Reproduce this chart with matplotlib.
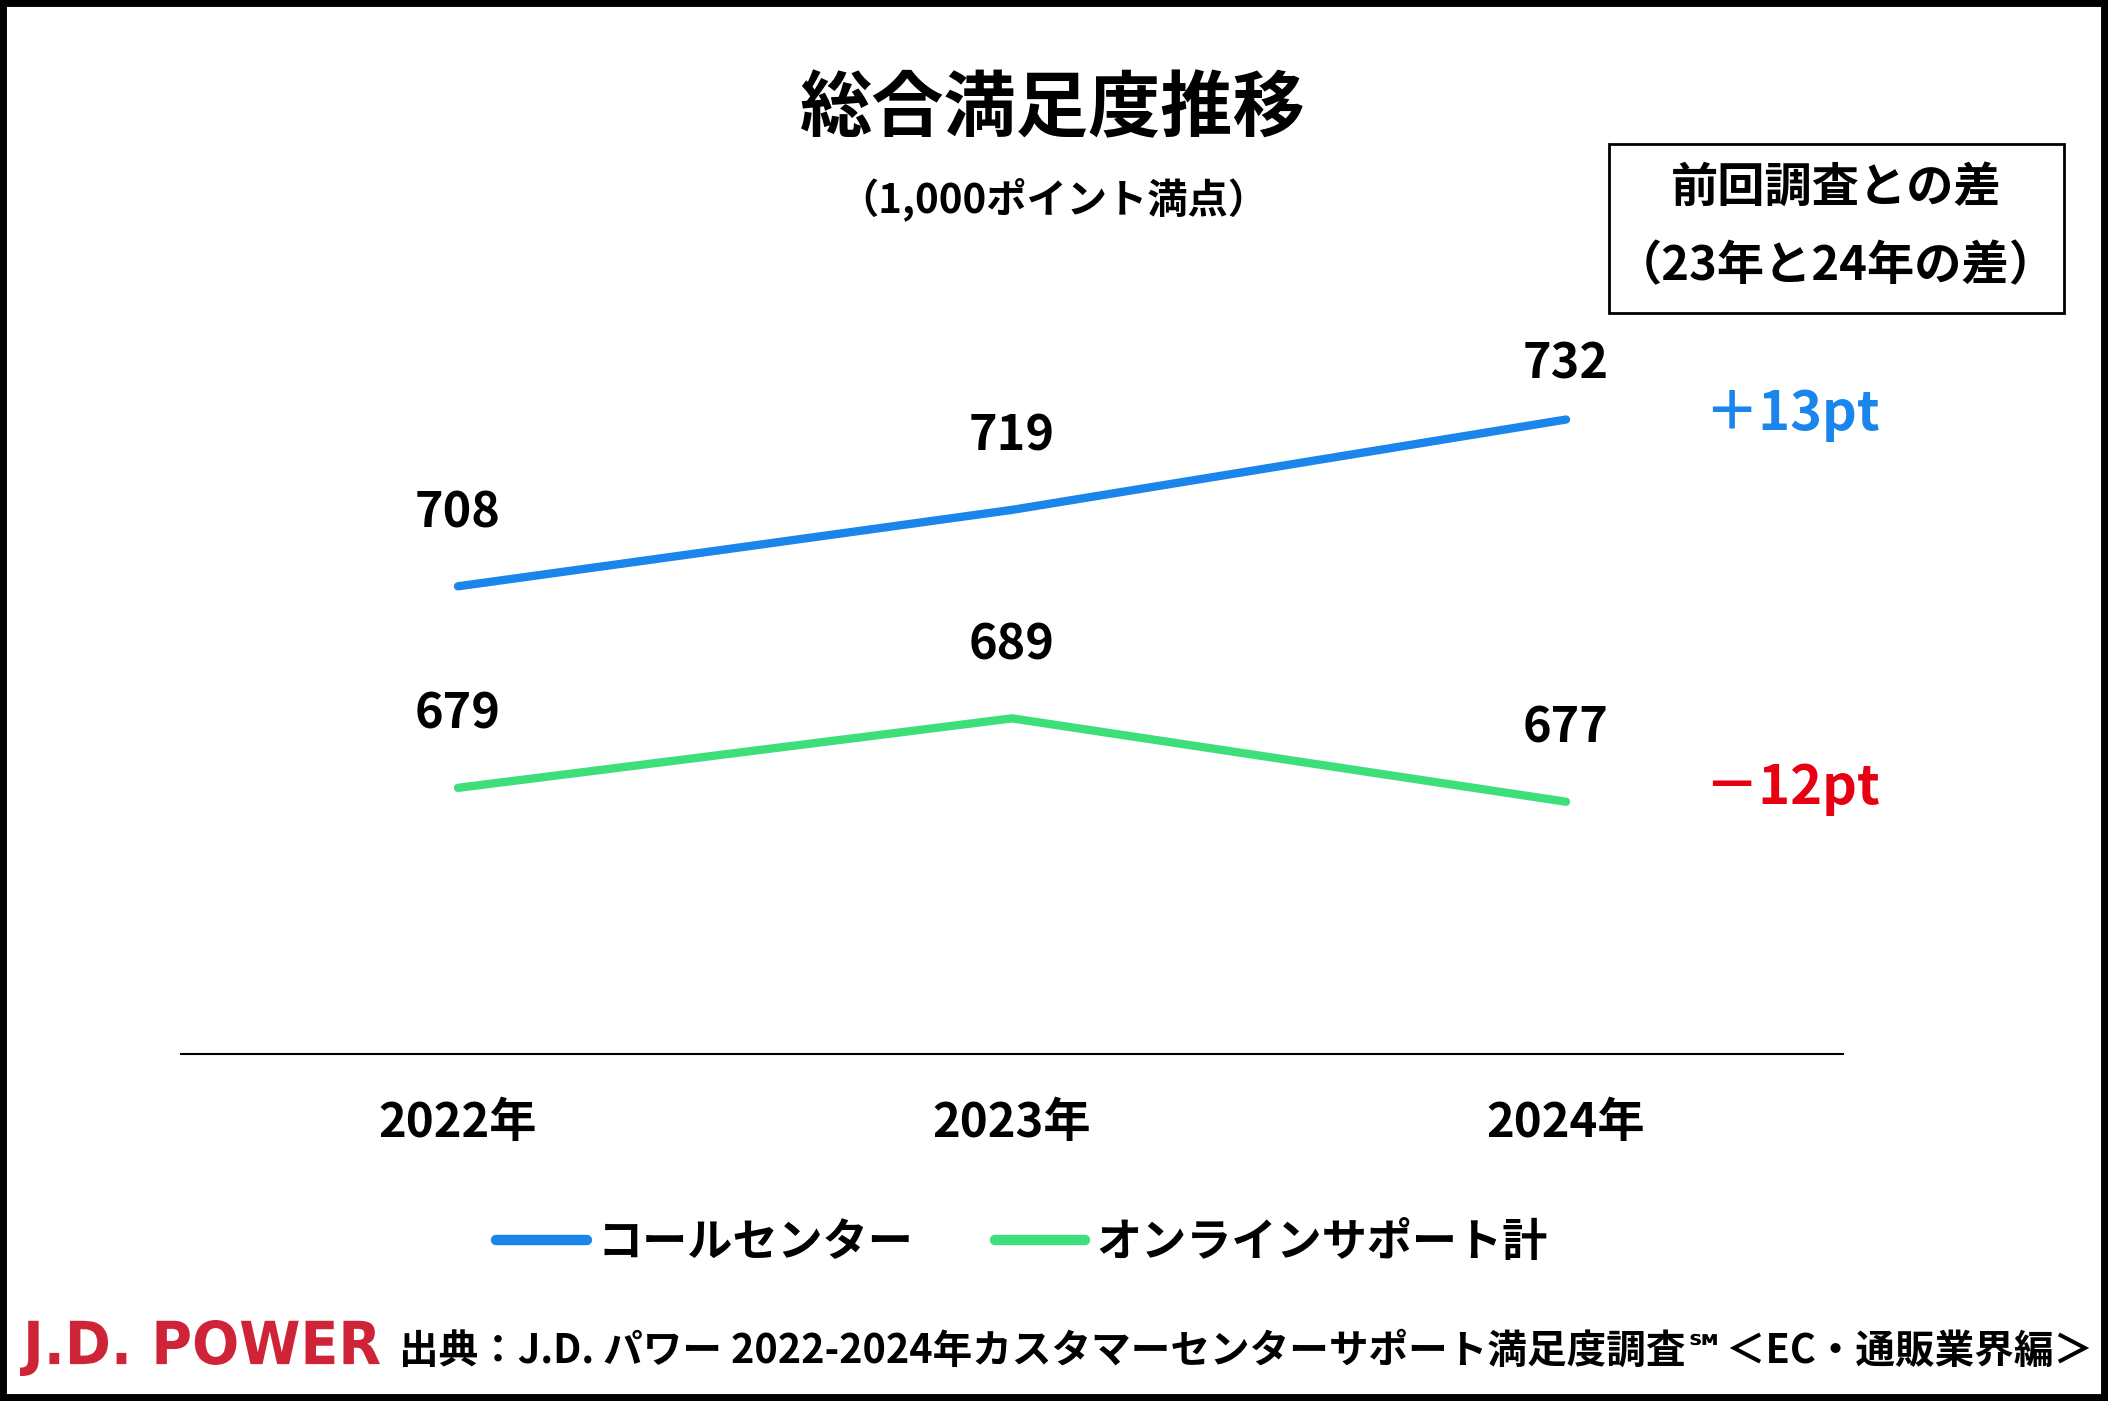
import matplotlib
matplotlib.use("Agg")
import matplotlib.pyplot as plt
from matplotlib.lines import Line2D
from matplotlib.patches import Rectangle, PathPatch
from matplotlib.textpath import TextPath
from matplotlib.font_manager import FontProperties
from matplotlib.transforms import Affine2D, IdentityTransform

plt.rcParams['font.family'] = ['Noto Sans CJK JP', 'DejaVu Sans']

# --- data ---
years = ['2022年', '2023年', '2024年']
call_center = [708, 719, 732]
online_support = [679, 689, 677]
series_names = ['コールセンター', 'オンラインサポート計']
diff_labels = ['＋13pt', '－12pt']

blue = '#1A85EA'
green = '#3DDF7A'
red = '#E60012'
logo_red = '#CF2337'

W, H = 2108, 1401
fig = plt.figure(figsize=(W / 100, H / 100), dpi=100)
fig.patch.set_facecolor('white')

# axes placed in pixels: x 181..1843, y 300..1054 (from top)
ax = fig.add_axes([181 / W, 1 - 1054 / H, (1843 - 181) / W, (1054 - 300) / H])
x = list(range(len(years)))
ax.plot(x, call_center, color=blue, lw=6, solid_capstyle='round')
ax.plot(x, online_support, color=green, lw=6, solid_capstyle='round')
ax.set_xlim(-0.5, 2.5)
ax.set_ylim(640.7, 749.2)
for s in ['top', 'right', 'left']:
    ax.spines[s].set_visible(False)
ax.spines['bottom'].set_linewidth(1.5)
ax.set_yticks([])
ax.set_xticks([])

# value labels (the last blue one sits closer to its point)
offsets = [[53, 53, 40], [53, 53, 53]]
for series, offs in zip((call_center, online_support), offsets):
    for xi, v, off in zip(x, series, offs):
        ax.annotate(str(v), (xi, v), xytext=(0, off), textcoords='offset points',
                    ha='center', va='center', fontsize=35, fontweight='bold')

# year labels under baseline
for xi, lab in zip(x, years):
    ax.annotate(lab, (xi, 0), xycoords=('data', 'axes fraction'),
                xytext=(0, -50), textcoords='offset points',
                ha='center', va='center', fontsize=34, fontweight='bold')

# difference labels
fig.text(1792 / W, 1 - 414 / H, diff_labels[0], color=blue, fontsize=39,
         fontweight='bold', ha='center', va='center')
fig.text(1792 / W, 1 - 788 / H, diff_labels[1], color=red, fontsize=39,
         fontweight='bold', ha='center', va='center')

# title
fig.text(1053 / W, 1 - 110 / H, '総合満足度推移', fontsize=52, fontweight='bold',
         ha='center', va='center')
fig.text(1053 / W, 1 - 199 / H, '（1,000ポイント満点）', fontsize=29,
         fontweight='bold', ha='center', va='center')

# box top right
fig.patches.append(Rectangle((1609 / W, 1 - 313 / H), (2064 - 1609) / W, (313 - 144) / H,
                             transform=fig.transFigure, fill=False, ec='black', lw=2))
fig.text(1836 / W, 1 - 188 / H, '前回調査との差', fontsize=34, fontweight='bold',
         ha='center', va='center')
fig.text(1836 / W, 1 - 266 / H, '（23年と24年の差）', fontsize=34, fontweight='bold',
         ha='center', va='center')

# legend
handles = [Line2D([], [], color=blue, lw=7.5, solid_capstyle='round'),
           Line2D([], [], color=green, lw=7.5, solid_capstyle='round')]
leg = fig.legend(handles, series_names, loc='center', ncol=2,
                 bbox_to_anchor=(1022 / W, 1 - 1243 / H), frameon=False,
                 handlelength=2.0, handletextpad=0.25, columnspacing=1.8,
                 prop={'size': 32.5, 'weight': 'bold'})

# logo drawn as a path, squeezed into its box
tp = TextPath((0, 0), 'J.D. POWER', size=100,
              prop=FontProperties(family='DejaVu Sans', weight='bold'))
bb = tp.get_extents()
lx0, lx1, ly0, ly1 = 20, 380, 1320, 1376
tr = (Affine2D().translate(-bb.x0, -bb.y0)
      .scale((lx1 - lx0) / bb.width, (ly1 - ly0) / bb.height)
      .translate(lx0, H - ly1))
fig.patches.append(PathPatch(tr.transform_path(tp), transform=IdentityTransform(),
                             color=logo_red, lw=0))

# footer source text, fitted to width
src = fig.text(399 / W, 1 - 1351 / H,
               '出典：J.D. パワー 2022-2024年カスタマーセンターサポート満足度調査℠＜EC・通販業界編＞',
               fontsize=29, fontweight='bold', ha='left', va='center')
fig.canvas.draw()
w = src.get_window_extent().width
src.set_fontsize(29 * (2090 - 399) / w)

# outer frame
fig.patches.append(Rectangle((0, 0), 1, 1, transform=fig.transFigure, fill=False,
                             ec='black', lw=10))

fig.savefig('out.png', dpi=100)
